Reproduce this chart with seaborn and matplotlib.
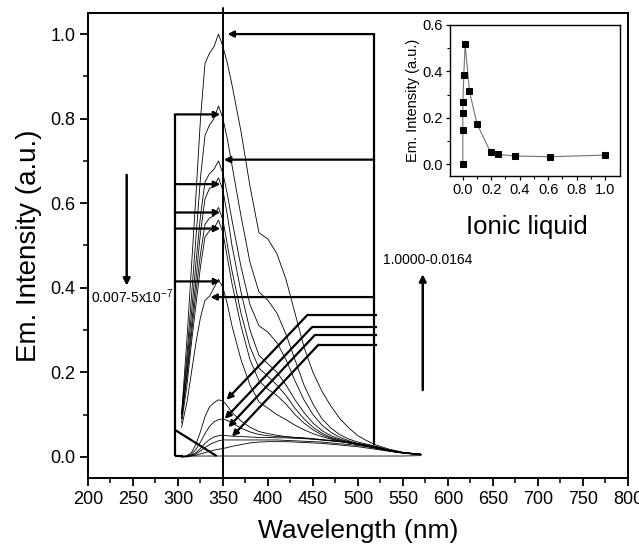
import numpy as np
import pandas as pd
import matplotlib
matplotlib.use("Agg")
import matplotlib.pyplot as plt
import seaborn as sns

# ---------------- data ----------------
wavelength = [304, 310, 315, 320, 325, 330, 335, 340, 345, 350, 355, 360, 370, 380, 390,
              400, 410, 420, 430, 440, 450, 460, 470, 480, 490, 500, 510, 520, 535, 550, 570]

spec_a = [0.10, 0.28, 0.45, 0.62, 0.80, 0.93, 0.955, 0.97, 1.00, 0.97, 0.93, 0.88, 0.77, 0.64, 0.53,
          0.515, 0.48, 0.42, 0.34, 0.26, 0.20, 0.155, 0.12, 0.09, 0.068, 0.05, 0.038, 0.028, 0.018, 0.011, 0.006]
spec_b = [0.10, 0.24, 0.38, 0.52, 0.66, 0.76, 0.785, 0.80, 0.83, 0.80, 0.75, 0.69, 0.57, 0.46, 0.39,
          0.37, 0.34, 0.29, 0.23, 0.17, 0.125, 0.09, 0.068, 0.052, 0.042, 0.035, 0.03, 0.025, 0.016, 0.01, 0.006]
spec_c = [0.10, 0.22, 0.34, 0.46, 0.57, 0.65, 0.67, 0.68, 0.70, 0.67, 0.62, 0.56, 0.45, 0.36, 0.31,
          0.295, 0.27, 0.23, 0.18, 0.135, 0.10, 0.075, 0.058, 0.046, 0.038, 0.032, 0.028, 0.024, 0.016, 0.01, 0.006]
spec_d = [0.09, 0.20, 0.31, 0.42, 0.53, 0.61, 0.635, 0.64, 0.66, 0.63, 0.57, 0.50, 0.39, 0.30, 0.24,
          0.22, 0.20, 0.17, 0.135, 0.105, 0.08, 0.062, 0.05, 0.042, 0.036, 0.031, 0.027, 0.023, 0.015, 0.01, 0.006]
spec_e = [0.09, 0.19, 0.29, 0.39, 0.48, 0.55, 0.565, 0.57, 0.59, 0.56, 0.50, 0.44, 0.34, 0.26, 0.21,
          0.19, 0.17, 0.145, 0.115, 0.09, 0.07, 0.056, 0.046, 0.04, 0.035, 0.03, 0.026, 0.022, 0.015, 0.01, 0.006]
spec_f = [0.08, 0.17, 0.27, 0.36, 0.45, 0.52, 0.535, 0.54, 0.56, 0.53, 0.47, 0.41, 0.31, 0.23, 0.18,
          0.16, 0.145, 0.125, 0.10, 0.08, 0.064, 0.052, 0.044, 0.038, 0.033, 0.029, 0.025, 0.021, 0.014, 0.009, 0.005]
spec_g = [0.07, 0.13, 0.20, 0.27, 0.33, 0.37, 0.38, 0.40, 0.42, 0.40, 0.36, 0.31, 0.23, 0.17, 0.13,
          0.115, 0.10, 0.088, 0.075, 0.064, 0.055, 0.048, 0.042, 0.037, 0.033, 0.029, 0.025, 0.021, 0.014, 0.009, 0.005]
spec_h = [0.0, 0.003, 0.01, 0.03, 0.06, 0.095, 0.118, 0.128, 0.135, 0.132, 0.12, 0.105, 0.085, 0.07, 0.06,
          0.055, 0.051, 0.048, 0.046, 0.044, 0.042, 0.04, 0.038, 0.036, 0.033, 0.03, 0.026, 0.022, 0.015, 0.01, 0.006]
spec_i = [0.0, 0.002, 0.006, 0.018, 0.035, 0.055, 0.072, 0.083, 0.088, 0.09, 0.086, 0.08, 0.068, 0.059, 0.053,
          0.05, 0.048, 0.047, 0.046, 0.045, 0.043, 0.041, 0.039, 0.037, 0.034, 0.031, 0.027, 0.023, 0.015, 0.01, 0.006]
spec_j = [0.0, 0.001, 0.004, 0.01, 0.02, 0.032, 0.041, 0.047, 0.05, 0.051, 0.05, 0.049, 0.048, 0.047, 0.046,
          0.046, 0.045, 0.045, 0.044, 0.043, 0.042, 0.04, 0.038, 0.036, 0.033, 0.03, 0.026, 0.022, 0.015, 0.01, 0.006]
spec_k = [0.0, 0.001, 0.003, 0.007, 0.014, 0.022, 0.029, 0.034, 0.038, 0.04, 0.04, 0.04, 0.04, 0.04, 0.04,
          0.04, 0.04, 0.039, 0.038, 0.037, 0.036, 0.035, 0.033, 0.031, 0.029, 0.027, 0.024, 0.02, 0.014, 0.009, 0.005]
spec_l = [0.0, 0.0, 0.002, 0.004, 0.007, 0.01, 0.013, 0.016, 0.018, 0.02, 0.022, 0.025, 0.029, 0.033, 0.035,
          0.036, 0.036, 0.036, 0.035, 0.034, 0.033, 0.032, 0.03, 0.028, 0.026, 0.024, 0.021, 0.018, 0.013, 0.009, 0.005]
spec_m = [0.002, 0.002, 0.002, 0.002, 0.002, 0.002, 0.002, 0.002, 0.002, 0.002, 0.002, 0.002, 0.002, 0.002, 0.002,
          0.002, 0.002, 0.002, 0.002, 0.002, 0.002, 0.002, 0.002, 0.002, 0.002, 0.002, 0.002, 0.002, 0.002, 0.002, 0.003]

spectra = [spec_a, spec_b, spec_c, spec_d, spec_e, spec_f, spec_g,
           spec_h, spec_i, spec_j, spec_k, spec_l, spec_m]

# inset: emission intensity vs ionic-liquid fraction
ionic_fraction = [5e-7, 1e-5, 1e-4, 0.001, 0.007, 0.0164, 0.047, 0.10, 0.195, 0.25, 0.37, 0.616, 1.0]
inset_intensity = [0.0, 0.149, 0.22, 0.27, 0.386, 0.517, 0.314, 0.174, 0.053, 0.043, 0.036, 0.033, 0.04]

x_ticks = [200, 250, 300, 350, 400, 450, 500, 550, 600, 650, 700, 750, 800]
y_ticks = [0.0, 0.2, 0.4, 0.6, 0.8, 1.0]
inset_x_ticks = [0.0, 0.2, 0.4, 0.6, 0.8, 1.0]
inset_y_ticks = [0.0, 0.2, 0.4, 0.6]

# annotation geometry (guide lines / arrows)
left_bracket_x = 296.5
left_arrow_levels = [0.81, 0.645, 0.578, 0.54, 0.415]
left_arrow_tip = 347
right_bracket_x = 518
right_arrows = [(1.0, 355), (0.703, 351), (0.378, 336)]
bent_arrows = [((0.336, 444), (354, 0.135)),
               ((0.307, 449), (352, 0.090)),
               ((0.288, 452), (356, 0.070)),
               ((0.265, 456), (360, 0.048))]

# ---------------- style ----------------
sns.set_style("ticks")
plt.rcParams['font.family'] = ['Liberation Sans', 'DejaVu Sans']
plt.rcParams['mathtext.default'] = 'regular'
plt.rcParams['text.color'] = 'black'
plt.rcParams['axes.labelcolor'] = 'black'
plt.rcParams['xtick.color'] = 'black'
plt.rcParams['ytick.color'] = 'black'

fig = plt.figure(figsize=(6.39, 5.53), dpi=100)
ax = fig.add_axes([0.1377, 0.1356, 0.845, 0.841])

df = pd.DataFrame({
    'wl': np.tile(wavelength, len(spectra)),
    'val': np.concatenate(spectra),
    'sid': np.repeat(np.arange(len(spectra)), len(wavelength)),
})
sns.lineplot(data=df, x='wl', y='val', units='sid', estimator=None,
             color='black', lw=0.6, ax=ax, sort=False)

ax.set_xlim(200, 800)
ax.set_ylim(-0.05, 1.05)
ax.set_xticks(x_ticks)
ax.set_yticks(y_ticks)
ax.set_xticks(np.arange(225, 800, 50), minor=True)
ax.set_yticks(np.arange(0.1, 1.0, 0.2), minor=True)
ax.set_xticklabels([str(t) for t in x_ticks])
ax.set_yticklabels([f"{t:.1f}" for t in y_ticks])
ax.tick_params(axis='both', which='major', direction='out', length=6, width=1.3,
               labelsize=13, pad=3, color='black', labelcolor='black')
ax.tick_params(axis='both', which='minor', direction='out', length=3.5, width=1.1, color='black')
for s in ax.spines.values():
    s.set_linewidth(1.4)
    s.set_color('black')
ax.set_xlabel("Wavelength (nm)", fontsize=19, labelpad=8, color='black')
ax.set_ylabel("Em. Intensity (a.u.)", fontsize=20, labelpad=6, color='black')

blk = dict(color='black', lw=1.6, solid_capstyle='butt')
arr = dict(arrowstyle='-|>', color='black', lw=1.6, mutation_scale=9,
           shrinkA=0, shrinkB=0)

# vertical reference line at 350 nm
ax.plot([350, 350], [-0.05, 1.062], color='black', lw=1.4, clip_on=False)

# left bracket
ax.plot([left_bracket_x, left_bracket_x], [0.003, 0.81], **blk)
ax.plot([left_bracket_x, 306], [0.003, 0.003], **blk)
for yv in left_arrow_levels:
    ax.annotate('', xy=(left_arrow_tip, yv), xytext=(left_bracket_x, yv), arrowprops=arr)
ax.plot([left_bracket_x, 343], [0.064, 0.002], **blk)

# right bracket
ax.plot([right_bracket_x, right_bracket_x], [0.028, 1.0], **blk)
for yv, tip in right_arrows:
    ax.annotate('', xy=(tip, yv), xytext=(right_bracket_x, yv), arrowprops=arr)
for (yv, bend_x), tip in bent_arrows:
    ax.plot([521, bend_x], [yv, yv], **blk)
    ax.annotate('', xy=tip, xytext=(bend_x, yv), arrowprops=arr)

# concentration arrows and labels
ax.annotate('', xy=(243, 0.405), xytext=(243, 0.667),
            arrowprops=dict(arrowstyle='-|>', color='black', lw=1.8, mutation_scale=10,
                            shrinkA=0, shrinkB=0))
ax.annotate('', xy=(572, 0.432), xytext=(572, 0.158),
            arrowprops=dict(arrowstyle='-|>', color='black', lw=1.8, mutation_scale=10,
                            shrinkA=0, shrinkB=0))
ax.text(249, 0.378, "0.007-5x10$^{-7}$", fontsize=10, ha='center', va='center', color='black')
ax.text(578, 0.466, "1.0000-0.0164", fontsize=10, ha='center', va='center', color='black')

# ---------------- inset ----------------
axin = fig.add_axes([450/639, 1-176/553, 170/639, 151/553])
sns.lineplot(x=ionic_fraction, y=inset_intensity, ax=axin, sort=False,
             color='0.45', lw=0.8, marker='s', markersize=5,
             markerfacecolor='black', markeredgecolor='black')
axin.set_xlim(-0.09, 1.105)
axin.set_ylim(-0.05, 0.6)
axin.set_xticks(inset_x_ticks)
axin.set_yticks(inset_y_ticks)
axin.set_xticks(np.arange(0.1, 1.0, 0.2), minor=True)
axin.set_yticks(np.arange(0.1, 0.6, 0.2), minor=True)
axin.set_xticklabels([f"{t:.1f}" for t in inset_x_ticks])
axin.set_yticklabels([f"{t:.1f}" for t in inset_y_ticks])
axin.tick_params(axis='both', which='major', direction='out', length=3, width=0.9,
                 labelsize=10.5, pad=2, color='black', labelcolor='black')
axin.tick_params(axis='both', which='minor', direction='out', length=2, width=0.8, color='black')
for s in axin.spines.values():
    s.set_linewidth(1.0)
    s.set_color('black')
axin.set_ylabel("Em. Intensity (a.u.)", fontsize=10.5, labelpad=2, color='black')
axin.set_xlabel("")

fig.text(527/639, 1-227/553, "Ionic liquid", fontsize=18.5, ha='center', va='center', color='black')

fig.savefig("out.png", dpi=100)
